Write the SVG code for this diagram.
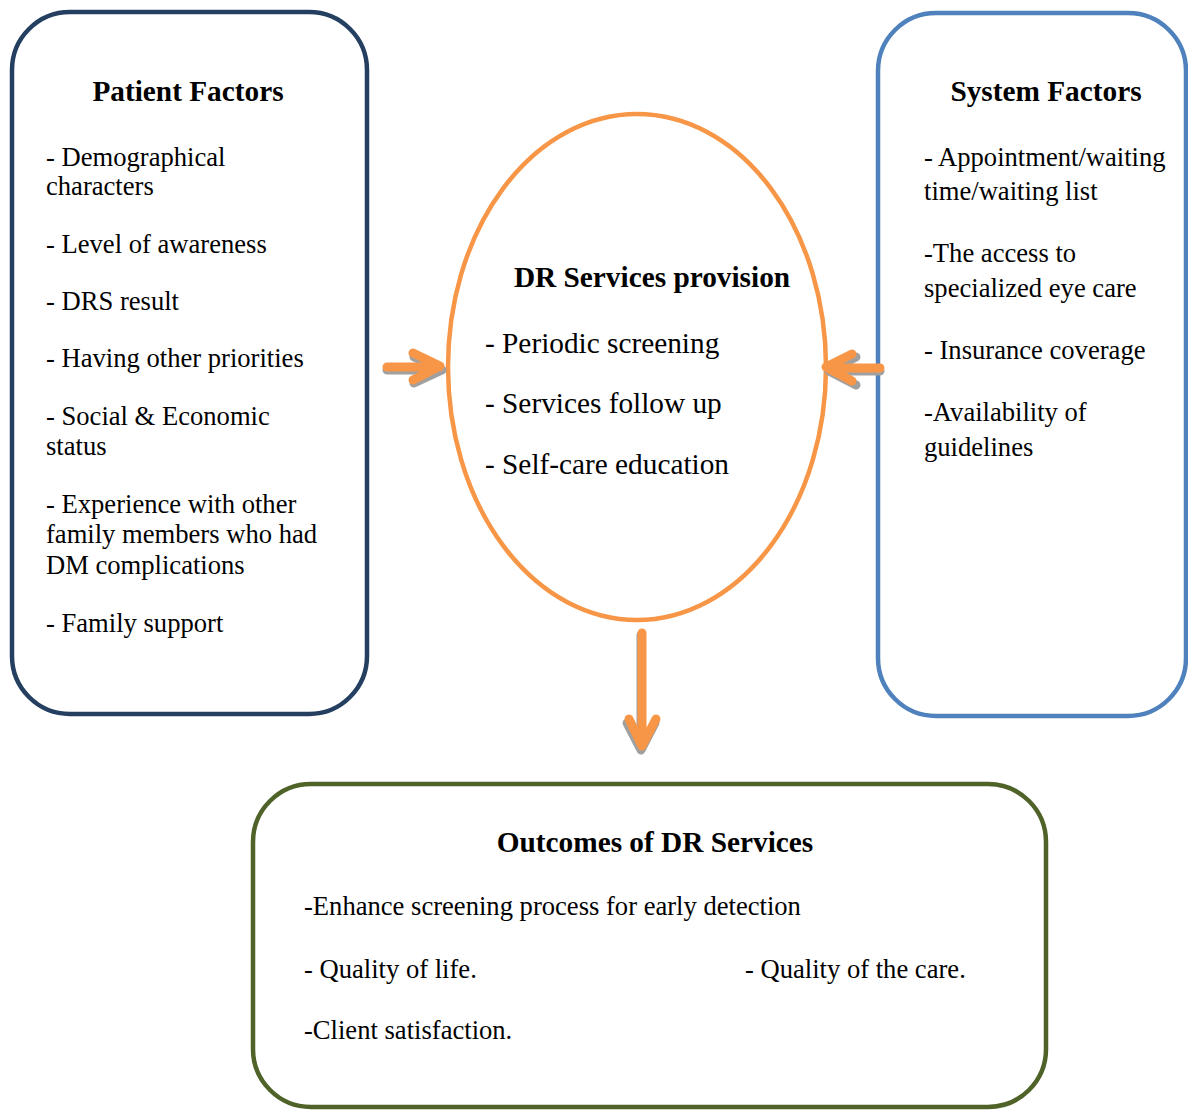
<svg xmlns="http://www.w3.org/2000/svg" width="1188" height="1110" viewBox="0 0 1188 1110">
<style>
text{font-family:"Liberation Serif","Times New Roman",serif;fill:#000}
.t{font-weight:bold;font-size:29.3px}
.s{font-size:26.6px}
.c{font-size:29.3px}
.box{fill:#fff;stroke-width:4.5}
.arr{fill:none;stroke:#f79646;stroke-width:9;stroke-linecap:round;stroke-linejoin:round}
.sh{fill:none;stroke:#a0a0a0;stroke-width:9;stroke-linecap:round;stroke-linejoin:round}
</style>
<rect width="1188" height="1110" fill="#fff"/>
<g id="patient">
<rect class="box" x="12" y="12" width="355" height="702" rx="58" stroke="#243f60"/>
<text class="t" x="188" y="101" text-anchor="middle">Patient Factors</text>
<text class="s" x="46" y="166">- Demographical</text>
<text class="s" x="46" y="195">characters</text>
<text class="s" x="46" y="253">- Level of awareness</text>
<text class="s" x="46" y="310">- DRS result</text>
<text class="s" x="46" y="367">- Having other priorities</text>
<text class="s" x="46" y="425">- Social &amp; Economic</text>
<text class="s" x="46" y="455">status</text>
<text class="s" x="46" y="513">- Experience with other</text>
<text class="s" x="46" y="543">family members who had</text>
<text class="s" x="46" y="574">DM complications</text>
<text class="s" x="46" y="632">- Family support</text>
</g>
<g id="system">
<rect class="box" x="878" y="13" width="308" height="703" rx="58" stroke="#4f81bd"/>
<text class="t" x="1046" y="101" text-anchor="middle">System Factors</text>
<text class="s" x="924" y="166">- Appointment/waiting</text>
<text class="s" x="924" y="200">time/waiting list</text>
<text class="s" x="924" y="262">-The access to</text>
<text class="s" x="924" y="297">specialized eye care</text>
<text class="s" x="924" y="359">- Insurance coverage</text>
<text class="s" x="924" y="421">-Availability of</text>
<text class="s" x="924" y="456">guidelines</text>
</g>
<g id="services">
<ellipse cx="637" cy="367" rx="189" ry="253" fill="#fff" stroke="#f79646" stroke-width="4.5"/>
<text class="t" x="652" y="287" text-anchor="middle">DR Services provision</text>
<text class="c" x="485" y="353">- Periodic screening</text>
<text class="c" x="485" y="413">- Services follow up</text>
<text class="c" x="485" y="474">- Self-care education</text>
</g>
<g id="outcomes">
<rect class="box" x="253" y="784" width="793" height="323" rx="58" stroke="#4f6228"/>
<text class="t" x="655" y="852" text-anchor="middle">Outcomes of DR Services</text>
<text class="s" x="304" y="915">-Enhance screening process for early detection</text>
<text class="s" x="304" y="978">- Quality of life.</text>
<text class="s" x="745" y="978">- Quality of the care.</text>
<text class="s" x="304" y="1039">-Client satisfaction.</text>
</g>
<g id="connectors">
<path class="sh" d="M387 370 H441 M414 357 L442 370 L414 383"/>
<path class="arr" d="M387 367 H439 M413 353 L440 366 L413 380"/>
<path class="sh" d="M880 371 H830 M856 357 L829 371 L856 385"/>
<path class="arr" d="M880 368 H828 M852 354 L826 367 L852 381"/>
<path class="sh" d="M641 635 V748 M627 723 L641 750 L655 723"/>
<path class="arr" d="M642 633 V745 M629 719 L642 746 L656 719"/>
</g>
</svg>
